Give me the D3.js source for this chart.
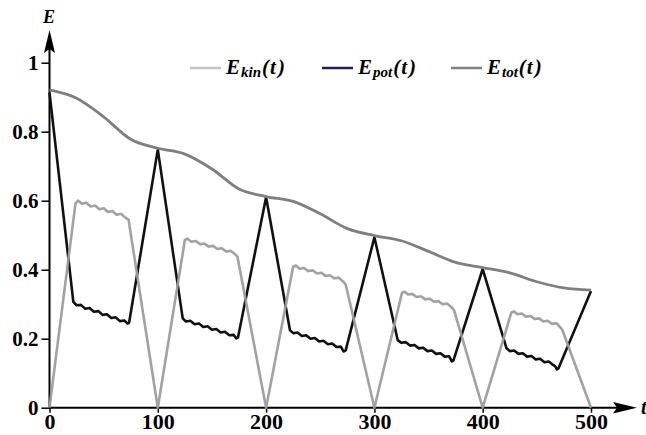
<!DOCTYPE html>
<html>
<head>
<meta charset="utf-8">
<script src="https://cdn.jsdelivr.net/npm/d3@7.9.0/dist/d3.min.js"></script>
<style>
  body { margin: 0; background: #fff; }
  svg { display: block; }
  .tick text { font-family: "Liberation Serif", serif; font-weight: bold; }
</style>
</head>
<body>
<svg id="chart" width="646" height="435"></svg>
<script>
// values, [t, E]
const xTicks = [0, 100, 200, 300, 400, 500];
const yTicks = [0, 0.2, 0.4, 0.6, 0.8, 1];

const eTot = [
  [0, 0.921], [25, 0.897], [50, 0.843], [75, 0.778], [100, 0.752],
  [125, 0.735], [150, 0.692], [175, 0.634], [200, 0.612], [225, 0.598],
  [250, 0.562], [275, 0.519], [300, 0.499], [325, 0.484], [350, 0.453],
  [375, 0.421], [400, 0.406], [425, 0.391], [450, 0.365], [475, 0.347], [500, 0.341]
];

const ePot = [
  [0, 0.913], [22, 0.307], [25, 0.297], [29, 0.298], [33, 0.287], [37, 0.289], [41, 0.278],
  [45, 0.280], [49, 0.269], [53, 0.271], [57, 0.260], [61, 0.262], [65, 0.251], [69, 0.253],
  [72, 0.244], [73.5, 0.246], [100, 0.748],
  [123, 0.259], [126, 0.250], [130, 0.252], [134, 0.242], [138, 0.244], [142, 0.234], [146, 0.236],
  [150, 0.226], [154, 0.228], [158, 0.218], [162, 0.220], [166, 0.210], [170, 0.211],
  [172.5, 0.201], [174, 0.203], [200, 0.610],
  [222, 0.225], [225, 0.216], [229, 0.218], [233, 0.208], [237, 0.210], [241, 0.200], [245, 0.202],
  [249, 0.192], [253, 0.194], [257, 0.184], [261, 0.186], [265, 0.176], [269, 0.177],
  [271.5, 0.163], [273.5, 0.166], [300, 0.494],
  [321.5, 0.196], [325, 0.188], [329, 0.190], [333, 0.180], [337, 0.182], [341, 0.172], [345, 0.174],
  [349, 0.164], [353, 0.166], [357, 0.156], [361, 0.158], [365, 0.148], [369, 0.149],
  [371.5, 0.134], [373, 0.137], [400, 0.402],
  [422, 0.172], [425, 0.164], [429, 0.166], [433, 0.156], [437, 0.158], [441, 0.148], [445, 0.150],
  [449, 0.140], [453, 0.142], [457, 0.132], [461, 0.134], [465, 0.124], [467, 0.120],
  [468.5, 0.111], [470, 0.114], [500, 0.338]
];

const eKin = [
  [0, 0], [24, 0.592], [26.5, 0.600], [30, 0.591], [34, 0.594], [38, 0.583], [42, 0.586],
  [46, 0.575], [50, 0.578], [54, 0.567], [58, 0.570], [62, 0.559], [66, 0.562], [70, 0.551],
  [73, 0.545], [100, 0],
  [125, 0.486], [127.5, 0.490], [131, 0.481], [135, 0.483], [139, 0.474], [143, 0.476],
  [147, 0.467], [151, 0.469], [155, 0.460], [159, 0.462], [163, 0.453], [167, 0.455],
  [171, 0.446], [173.5, 0.438], [200, 0],
  [225, 0.409], [227.5, 0.412], [231, 0.403], [235, 0.405], [239, 0.396], [243, 0.398],
  [247, 0.389], [251, 0.391], [255, 0.382], [259, 0.384], [263, 0.375], [267, 0.377],
  [271, 0.366], [273.5, 0.357], [300, 0],
  [325.5, 0.333], [328, 0.336], [331, 0.328], [335, 0.330], [339, 0.321], [343, 0.323],
  [347, 0.314], [351, 0.316], [355, 0.307], [359, 0.309], [363, 0.300], [367, 0.302],
  [371, 0.292], [373.5, 0.283], [400, 0],
  [426.5, 0.276], [429, 0.279], [432, 0.271], [436, 0.273], [440, 0.264], [444, 0.266],
  [448, 0.257], [452, 0.259], [456, 0.250], [460, 0.252], [464, 0.243], [468, 0.245],
  [471, 0.235], [473.5, 0.226], [500, 0]
];

const legendItems = [
  { sub: "kin", color: "#c4c4c4" },
  { sub: "pot", color: "#1c2260" },
  { sub: "tot", color: "#7f7f7f" }
];

const svg = d3.select("#chart");
const x = d3.scaleLinear().domain([0, 500]).range([49.5, 591]);
const y = d3.scaleLinear().domain([0, 1]).range([407.7, 62.7]);

// axes
const yAxis = svg.append("g")
  .attr("transform", "translate(49.5,0)")
  .call(d3.axisLeft(y).tickValues(yTicks).tickSize(8).tickPadding(3).tickFormat(d => d));
yAxis.select(".domain").remove();
yAxis.selectAll(".tick line").attr("stroke", "#000").attr("stroke-width", 1.5);
yAxis.selectAll(".tick text").attr("font-size", 21).attr("fill", "#000");

const xAxis = svg.append("g")
  .attr("transform", "translate(0,407.7)")
  .call(d3.axisBottom(x).tickValues(xTicks).tickSize(5).tickPadding(1).tickFormat(d => d));
xAxis.select(".domain").remove();
xAxis.selectAll(".tick line").attr("stroke", "#000").attr("stroke-width", 1.5);
xAxis.selectAll(".tick text").attr("font-size", 22).attr("fill", "#000");

svg.append("line").attr("x1", 49.5).attr("x2", 49.5).attr("y1", 408).attr("y2", 45)
  .attr("stroke", "#000").attr("stroke-width", 2);
svg.append("path").attr("d", "M49.5,30 L44,53 L49.5,49 L55,53 Z").attr("fill", "#000");
svg.append("line").attr("x1", 49).attr("x2", 622).attr("y1", 407.7).attr("y2", 407.7)
  .attr("stroke", "#000").attr("stroke-width", 2);
svg.append("path").attr("d", "M637,407.7 L613,402 L617,407.7 L613,413.5 Z").attr("fill", "#000");

svg.append("text").attr("x", 49).attr("y", 23).attr("text-anchor", "middle")
  .attr("font-family", "Liberation Serif").attr("font-weight", "bold").attr("font-style", "italic")
  .attr("font-size", 18).text("E");
svg.append("text").attr("x", 641).attr("y", 414)
  .attr("font-family", "Liberation Serif").attr("font-weight", "bold").attr("font-style", "italic")
  .attr("font-size", 20).text("t");

// curves
const line = d3.line().x(d => x(d[0])).y(d => y(d[1]));
const smooth = d3.line().x(d => x(d[0])).y(d => y(d[1])).curve(d3.curveMonotoneX);

svg.append("path").datum(ePot).attr("d", line)
  .attr("fill", "none").attr("stroke", "#111").attr("stroke-width", 2.6)
  .attr("stroke-linejoin", "round");
svg.append("path").datum(eKin).attr("d", line)
  .attr("fill", "none").attr("stroke", "#9d9d9d").attr("stroke-width", 2.6)
  .attr("stroke-linejoin", "round").attr("opacity", 0.95);
svg.append("path").datum(eTot).attr("d", smooth)
  .attr("fill", "none").attr("stroke", "#7f7f7f").attr("stroke-width", 2.8);

// legend
const legendX = [190, 322, 451];
const legend = svg.append("g").attr("transform", "translate(0,68)");
legendItems.forEach((d, i) => {
  const g = legend.append("g").attr("transform", `translate(${legendX[i]},0)`);
  g.append("line").attr("x1", 0).attr("x2", 31).attr("y1", 0).attr("y2", 0)
    .attr("stroke", d.color).attr("stroke-width", 2.5);
  const t = g.append("text").attr("x", 36).attr("y", 6)
    .attr("font-family", "Liberation Serif").attr("font-weight", "bold").attr("font-style", "italic")
    .attr("font-size", 21);
  t.append("tspan").text("E");
  t.append("tspan").attr("font-size", 15).attr("dy", 3).attr("dx", 1).text(d.sub);
  t.append("tspan").attr("dy", -3).attr("dx", 1).text("(");
  t.append("tspan").attr("dx", 1).text("t");
  t.append("tspan").attr("dx", 2).text(")");
});
</script>
</body>
</html>
